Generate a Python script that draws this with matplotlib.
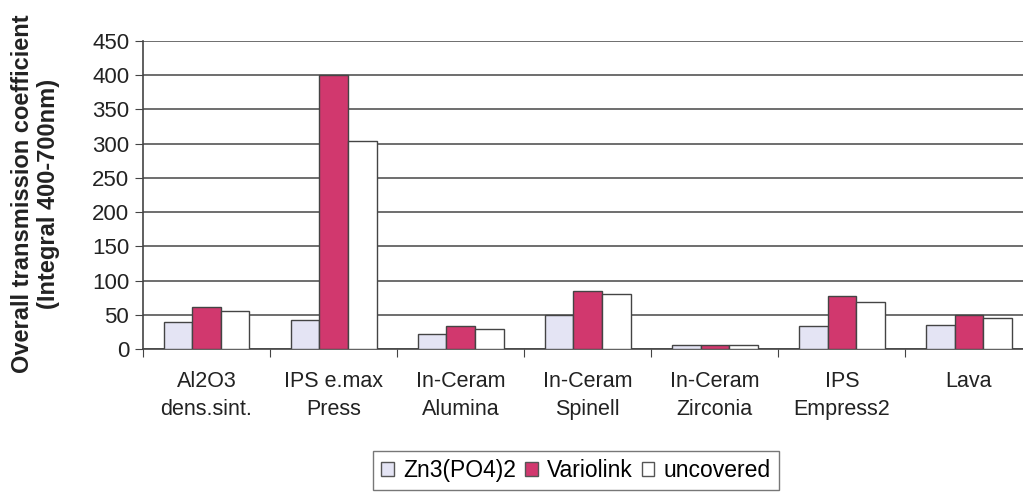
import numpy as np
import matplotlib
matplotlib.use("Agg")
import matplotlib.pyplot as plt

plt.rcParams['font.family'] = ['Liberation Sans', 'DejaVu Sans']

categories = ["Al2O3\ndens.sint.", "IPS e.max\nPress", "In-Ceram\nAlumina",
              "In-Ceram\nSpinell", "In-Ceram\nZirconia", "IPS\nEmpress2", "Lava"]
zn3po4 = [39, 42, 22, 49, 6, 33, 35]
variolink = [62, 400, 34, 84, 6, 77, 50]
uncovered = [56, 304, 29, 80, 6, 69, 45]

series = [("Zn3(PO4)2", zn3po4, "#e4e4f4"),
          ("Variolink", variolink, "#d1386e"),
          ("uncovered", uncovered, "#ffffff")]

fig = plt.figure(figsize=(10.23, 4.92), dpi=100)
ax = fig.add_axes([0.1398, 0.2907, 0.8695, 0.626])

x = np.arange(len(categories)) + 0.5
w = 0.225
for i, (name, vals, col) in enumerate(series):
    ax.bar(x + (i - 1) * w, vals, w, color=col, edgecolor="#444444",
           linewidth=1.0, label=name, zorder=3)

ax.set_xlim(0, 7)
ax.set_ylim(0, 450)
ax.set_yticks(np.arange(0, 451, 50))
ax.yaxis.grid(True, color="#555555", linewidth=1.2, zorder=0)
ax.set_axisbelow(True)

ax.set_xticks(np.arange(0, 8))
ax.set_xticklabels([])
ax.set_xticks(x, minor=True)
ax.set_xticklabels(categories, minor=True, fontsize=15.5, color="#222222",
                   linespacing=1.45)
ax.tick_params(axis="x", which="minor", length=0, pad=16)
ax.tick_params(axis="x", which="major", length=6, color="#444444")
ax.tick_params(axis="y", length=6, color="#444444", labelsize=16,
               labelcolor="#222222", pad=4)

for s in ["top", "right"]:
    ax.spines[s].set_visible(False)
for s in ["left", "bottom"]:
    ax.spines[s].set_color("#444444")
    ax.spines[s].set_linewidth(1.2)

ax.set_ylabel("Overall transmission coefficient\n(Integral 400-700nm)",
              fontsize=17, fontweight="bold", color="#222222", linespacing=1.2)
ax.yaxis.set_label_coords(-0.093, 0.505)

leg = fig.legend(loc="center", bbox_to_anchor=(0.563, 0.044), ncol=3,
                 fontsize=16.5, frameon=True, fancybox=False, edgecolor="#555555",
                 handlelength=0.55, handleheight=0.55, handletextpad=0.4,
                 columnspacing=0.4, borderpad=0.35)
leg.get_frame().set_linewidth(1.0)
for h in leg.legend_handles:
    h.set_edgecolor("#555555")

fig.savefig("out.png", dpi=100)
